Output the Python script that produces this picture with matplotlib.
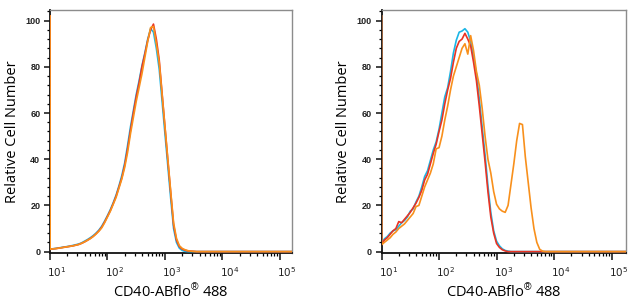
import numpy as np
import matplotlib
matplotlib.use("Agg")
import matplotlib.pyplot as plt
from matplotlib.ticker import FixedLocator, FixedFormatter, LogLocator, MultipleLocator, NullFormatter
from matplotlib.transforms import ScaledTranslation

plt.rcParams['mathtext.fontset'] = 'custom'
plt.rcParams['mathtext.rm'] = 'Liberation Sans'
plt.rcParams['mathtext.it'] = 'Liberation Sans:italic'

# histogram bins, as log10 of the fluorescence (first bin = pile-up at the axis edge)
log_bins = [1.0, 1.003, 1.05, 1.10, 1.15, 1.20, 1.25, 1.30, 1.35, 1.40, 1.45, 1.50,
            1.55, 1.60, 1.65, 1.70, 1.75, 1.80, 1.85, 1.90, 1.95, 2.00,
            2.05, 2.10, 2.15, 2.20, 2.25, 2.30, 2.35, 2.40, 2.45, 2.50,
            2.55, 2.60, 2.65, 2.70, 2.75, 2.80, 2.85, 2.90, 2.95, 3.00,
            3.05, 3.10, 3.15, 3.20, 3.25, 3.30, 3.35, 3.40, 3.45, 3.50,
            3.55, 3.60, 3.65, 3.70, 3.75, 3.80, 3.85, 4.00, 5.30]

# left panel
left_red = [102, 1.0, 1.2, 1.3, 1.5, 1.7, 1.9, 2.1, 2.3, 2.5, 2.8, 3.1,
            3.6, 4.2, 4.9, 5.7, 6.6, 7.7, 9.0, 10.6, 12.8, 15.3,
            17.8, 20.8, 24.0, 28.0, 32.0, 37.5, 44.5, 52.5, 60.0, 67.0,
            73.0, 80.0, 85.5, 91.5, 96.0, 98.5, 92.0, 83.0, 68.5, 54.0,
            39.5, 25.5, 11.5, 5.0, 2.2, 1.1, 0.6, 0.3, 0.2, 0.1,
            0, 0, 0, 0, 0, 0, 0, 0, 0]
left_cyan = [102, 1.1, 1.2, 1.4, 1.6, 1.8, 2.0, 2.2, 2.4, 2.7, 3.0, 3.3,
             3.8, 4.5, 5.2, 6.0, 6.9, 8.0, 9.3, 11.0, 13.2, 15.6,
             18.2, 21.2, 24.5, 28.5, 33.0, 38.5, 46.0, 54.0, 61.0, 68.0,
             74.0, 80.5, 86.0, 92.0, 96.5, 95.0, 88.0, 79.0, 65.0, 51.0,
             37.0, 23.0, 10.0, 4.0, 1.5, 0.5, 0.1, 0, 0, 0,
             0, 0, 0, 0, 0, 0, 0, 0, 0]
left_orange = [102, 1.0, 1.2, 1.3, 1.5, 1.7, 1.9, 2.1, 2.3, 2.5, 2.8, 3.1,
               3.6, 4.2, 4.9, 5.6, 6.5, 7.6, 8.8, 10.3, 12.5, 15.0,
               17.5, 20.5, 23.5, 27.5, 31.5, 36.5, 43.0, 51.0, 58.0, 65.0,
               71.0, 77.0, 84.0, 91.0, 97.0, 97.5, 90.0, 82.0, 68.0, 54.0,
               40.0, 26.0, 12.5, 5.8, 2.6, 1.4, 0.8, 0.4, 0.2, 0.1,
               0, 0, 0, 0, 0, 0, 0, 0, 0]

# right panel
right_red = [102, 3.0, 5.0, 6.0, 7.5, 9.0, 10.0, 13.0, 12.5, 14.0, 15.5, 17.0,
             19.0, 21.0, 23.5, 26.5, 31.0, 33.5, 38.0, 42.5, 46.5, 52.0,
             57.0, 64.0, 70.0, 75.0, 82.0, 88.0, 91.0, 92.0, 94.5, 92.0,
             89.0, 82.0, 74.0, 63.0, 51.0, 39.0, 26.0, 15.0, 8.0, 3.5,
             1.8, 0.8, 0.3, 0, 0, 0, 0, 0, 0, 0,
             0, 0, 0, 0, 0, 0, 0, 0, 0]
right_cyan = [102, 3.5, 5.5, 6.5, 8.0, 9.0, 9.5, 11.0, 12.5, 13.5, 15.0, 17.5,
              18.5, 21.5, 24.0, 28.0, 32.5, 35.0, 39.5, 44.0, 47.5, 53.0,
              60.0, 67.0, 71.0, 78.0, 86.0, 91.5, 95.0, 95.5, 96.5, 95.0,
              91.0, 84.0, 77.0, 66.0, 54.0, 42.0, 28.5, 17.0, 9.0, 4.5,
              2.5, 1.2, 0.5, 0.2, 0, 0, 0, 0, 0, 0,
              0, 0, 0, 0, 0, 0, 0, 0, 0]
right_orange = [102, 3.0, 4.0, 5.0, 6.0, 7.5, 8.5, 10.0, 11.0, 12.0, 13.5, 15.0,
                16.5, 19.5, 20.0, 24.0, 28.0, 31.0, 34.0, 38.0, 44.5, 45.0,
                50.0, 57.0, 63.0, 70.0, 76.0, 80.0, 84.0, 88.0, 90.0, 85.5,
                93.5, 87.0, 78.0, 72.0, 62.0, 50.0, 40.0, 34.0, 26.0, 20.5,
                18.5, 17.5, 17.0, 20.0, 29.0, 38.0, 48.0, 55.5, 55.0, 41.0,
                30.0, 19.0, 10.0, 4.0, 1.0, 0.2, 0, 0, 0]

x_ticks = [1e1, 1e2, 1e3, 1e4, 1e5]
x_ticklabels = [r'$\mathregular{10^{1}}$', r'$\mathregular{10^{2}}$', r'$\mathregular{10^{3}}$',
                r'$\mathregular{10^{4}}$', r'$\mathregular{10^{5}}$']
y_ticks = [0, 20, 40, 60, 80, 100]

colors = {'red': '#ea3323', 'cyan': '#1bb6e6', 'orange': '#f8901c'}

fig = plt.figure(figsize=(6.36, 3.05), dpi=100)
ax1 = fig.add_axes([50 / 636, 52 / 305, 242 / 636, 243 / 305])
ax2 = fig.add_axes([381.5 / 636, 52 / 305, 244.5 / 636, 243 / 305])

x = 10 ** np.array(log_bins)
panels = [(ax1, left_cyan, left_red, left_orange, 10 ** 5.21),
          (ax2, right_cyan, right_red, right_orange, 10 ** 5.25)]

for ax, cy, rd, og, xmax in panels:
    ax.plot(x, cy, color=colors['cyan'], lw=1.2, zorder=3)
    ax.plot(x, rd, color=colors['red'], lw=1.2, zorder=3)
    ax.plot(x, og, color=colors['orange'], lw=1.2, zorder=3)
    ax.set_xscale('log')
    ax.set_xlim(10, xmax)
    ax.set_ylim(-0.6, 104.6)

    ax.xaxis.set_major_locator(FixedLocator(x_ticks))
    ax.xaxis.set_major_formatter(FixedFormatter(x_ticklabels))
    ax.xaxis.set_minor_locator(LogLocator(base=10, subs=np.arange(2, 10)))
    ax.xaxis.set_minor_formatter(NullFormatter())
    ax.set_yticks(y_ticks)
    ax.yaxis.set_minor_locator(MultipleLocator(4))

    ax.tick_params(axis='x', which='major', length=5, width=1.2, pad=4,
                   labelsize=7.5, colors='#222222')
    ax.tick_params(axis='x', which='minor', length=2.5, width=0.9)
    ax.tick_params(axis='y', which='major', length=4, width=1.2, pad=3,
                   labelsize=6.5, colors='#222222')
    ax.tick_params(axis='y', which='minor', length=2, width=0.9)
    for lab in ax.get_yticklabels():
        lab.set_fontfamily('Liberation Sans')
        lab.set_fontweight('bold')
    for lab in ax.get_xticklabels():
        lab.set_transform(lab.get_transform() + ScaledTranslation(7 / 100, 0, fig.dpi_scale_trans))

    for side in ['top', 'right']:
        ax.spines[side].set_color('#8c8c8c')
        ax.spines[side].set_linewidth(1.0)
    for side in ['left', 'bottom']:
        ax.spines[side].set_color('#111111')
        ax.spines[side].set_linewidth(1.3)

    ax.set_ylabel('Relative Cell Number', fontfamily='Open Sans', fontsize=10.5, labelpad=4)
    ax.set_xlabel(r'CD40-ABflo$^{®}$ 488', fontfamily='Open Sans', fontsize=10.5, labelpad=3)

fig.savefig('out.png', dpi=100)
